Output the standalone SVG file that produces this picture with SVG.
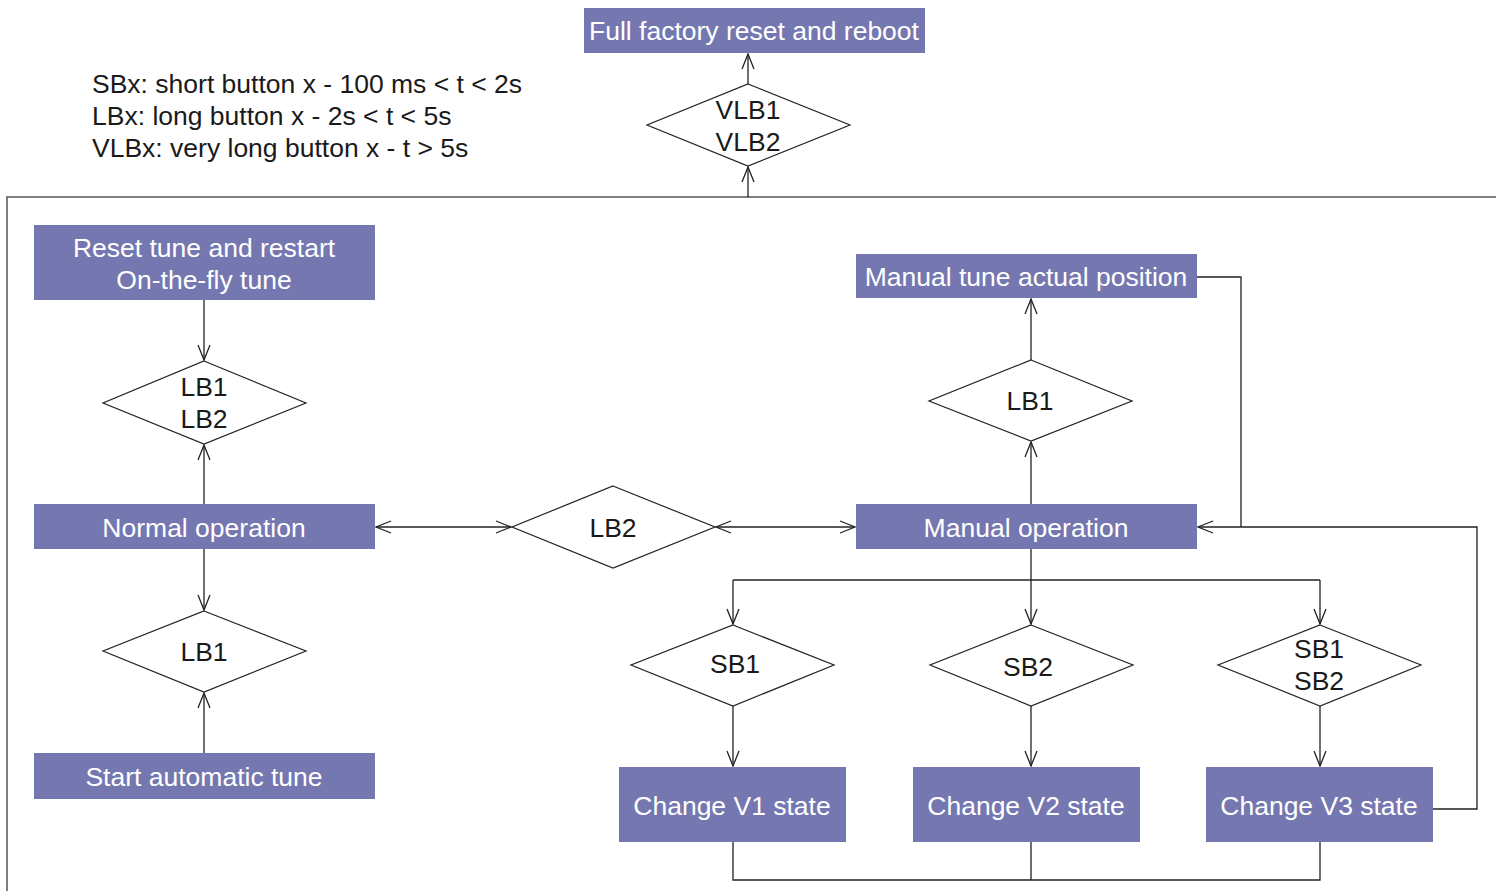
<svg xmlns="http://www.w3.org/2000/svg" width="1496" height="891" viewBox="0 0 1496 891">
<style>
.box{fill:#7577B0;stroke:none}
.bt{fill:#ffffff;font-family:"Liberation Sans",Arial,sans-serif;font-size:26.5px;text-anchor:middle}
.dia{fill:#ffffff;stroke:#222;stroke-width:1.2}
.dt{fill:#1a1a1a;font-family:"Liberation Sans",Arial,sans-serif;font-size:26.5px;text-anchor:middle}
.lg{fill:#1a1a1a;font-family:"Liberation Sans",Arial,sans-serif;font-size:26.5px}
.c{fill:none;stroke:#222;stroke-width:1.3}
.frame{fill:none;stroke:#555;stroke-width:1.5}
</style>
<defs>
<marker id="ah" markerUnits="userSpaceOnUse" markerWidth="20" markerHeight="20" viewBox="-16 -10 20 20" refX="0" refY="0" orient="auto-start-reverse">
<path d="M-15,-6 L0,0 L-15,6" fill="none" stroke="#222" stroke-width="1.3"/>
</marker>
</defs>
<rect width="1496" height="891" fill="#ffffff"/>
<path class="frame" d="M1496,197 L7,197 L7,891"/>
<g id="legend">
<text class="lg" x="92" y="93">SBx: short button x - 100 ms &lt; t &lt; 2s</text>
<text class="lg" x="92" y="125">LBx: long button x - 2s &lt; t &lt; 5s</text>
<text class="lg" x="92" y="157">VLBx: very long button x - t &gt; 5s</text>
</g>
<g id="connectors">
<path class="c" d="M748,197 L748,167" marker-end="url(#ah)"/>
<path class="c" d="M748,84 L748,54" marker-end="url(#ah)"/>
<path class="c" d="M204,300 L204,360" marker-end="url(#ah)"/>
<path class="c" d="M204,504 L204,445" marker-end="url(#ah)"/>
<path class="c" d="M204,549 L204,610" marker-end="url(#ah)"/>
<path class="c" d="M204,753 L204,693" marker-end="url(#ah)"/>
<path class="c" d="M376,527 L511,527" marker-start="url(#ah)" marker-end="url(#ah)"/>
<path class="c" d="M716,527 L855,527" marker-start="url(#ah)" marker-end="url(#ah)"/>
<path class="c" d="M1031,504 L1031,442" marker-end="url(#ah)"/>
<path class="c" d="M1031,360 L1031,299" marker-end="url(#ah)"/>
<path class="c" d="M1197,277 L1241,277 L1241,527"/>
<path class="c" d="M1433,809 L1477,809 L1477,527 L1198,527" marker-end="url(#ah)"/>
<path class="c" d="M1031,549 L1031,624" marker-end="url(#ah)"/>
<path class="c" d="M733,580 L1320,580"/>
<path class="c" d="M733,580 L733,624" marker-end="url(#ah)"/>
<path class="c" d="M1320,580 L1320,624" marker-end="url(#ah)"/>
<path class="c" d="M733,706 L733,766" marker-end="url(#ah)"/>
<path class="c" d="M1031,706 L1031,766" marker-end="url(#ah)"/>
<path class="c" d="M1320,706 L1320,766" marker-end="url(#ah)"/>
<path class="c" d="M733,842 L733,880 L1320,880 L1320,842 M1031,842 L1031,880"/>
</g>
<g id="n-factory"><rect class="box" x="584" y="8" width="341" height="45"/><text class="bt" x="754" y="40">Full factory reset and reboot</text></g>
<g id="d-vlb"><polygon class="dia" points="748,84 850,125 748,166 647,125"/><text class="dt" x="748" y="119">VLB1</text><text class="dt" x="748" y="151">VLB2</text></g>
<g id="n-reset"><rect class="box" x="34" y="225" width="341" height="75"/><text class="bt" x="204" y="257">Reset tune and restart</text><text class="bt" x="204" y="289">On-the-fly tune</text></g>
<g id="d-lb12"><polygon class="dia" points="204,361 306,403 204,444 103,403"/><text class="dt" x="204" y="396">LB1</text><text class="dt" x="204" y="428">LB2</text></g>
<g id="n-normal"><rect class="box" x="34" y="504" width="341" height="45"/><text class="bt" x="204" y="537">Normal operation</text></g>
<g id="d-lb1-left"><polygon class="dia" points="204,611 306,651 204,692 103,651"/><text class="dt" x="204" y="661">LB1</text></g>
<g id="n-auto"><rect class="box" x="34" y="753" width="341" height="46"/><text class="bt" x="204" y="786">Start automatic tune</text></g>
<g id="d-lb2"><polygon class="dia" points="613,486 715,527 613,568 512,527"/><text class="dt" x="613" y="537">LB2</text></g>
<g id="n-manual"><rect class="box" x="856" y="504" width="341" height="45"/><text class="bt" x="1026" y="537">Manual operation</text></g>
<g id="d-lb1-right"><polygon class="dia" points="1031,360 1132,401 1031,441 929,401"/><text class="dt" x="1030" y="410">LB1</text></g>
<g id="n-manualtune"><rect class="box" x="856" y="254" width="341" height="44"/><text class="bt" x="1026" y="286">Manual tune actual position</text></g>
<g id="d-sb1"><polygon class="dia" points="733,625 834,665 733,706 631,665"/><text class="dt" x="735" y="673">SB1</text></g>
<g id="d-sb2"><polygon class="dia" points="1031,625 1133,665 1031,706 930,665"/><text class="dt" x="1028" y="676">SB2</text></g>
<g id="d-sb12"><polygon class="dia" points="1320,625 1421,665 1320,706 1218,665"/><text class="dt" x="1319" y="658">SB1</text><text class="dt" x="1319" y="690">SB2</text></g>
<g id="n-v1"><rect class="box" x="619" y="767" width="227" height="75"/><text class="bt" x="732" y="815">Change V1 state</text></g>
<g id="n-v2"><rect class="box" x="913" y="767" width="227" height="75"/><text class="bt" x="1026" y="815">Change V2 state</text></g>
<g id="n-v3"><rect class="box" x="1206" y="767" width="227" height="75"/><text class="bt" x="1319" y="815">Change V3 state</text></g>
</svg>
